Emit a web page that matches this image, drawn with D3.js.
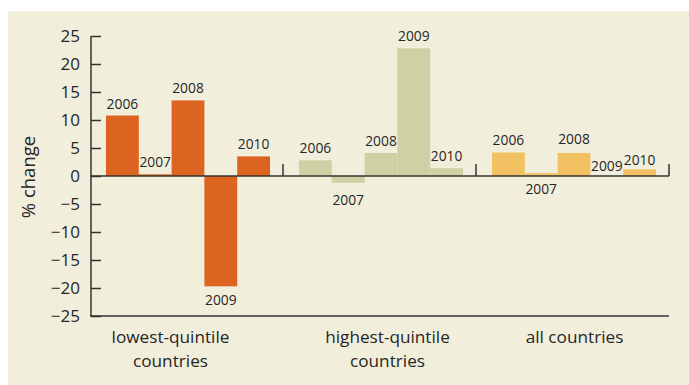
<!DOCTYPE html>
<html>
<head>
<meta charset="utf-8">
<script src="https://cdn.jsdelivr.net/npm/d3@7"></script>
<style>
  html, body { margin: 0; padding: 0; background: #ffffff; }
  svg { display: block; }
  text { font-family: "Open Sans", "Noto Sans", sans-serif; fill: #262626; }
</style>
</head>
<body>
<svg id="chart" width="689" height="385"></svg>
<script>
// ---- data ----
const groups = ["lowest-quintile countries", "highest-quintile countries", "all countries"];
const groupLabelLines = [["lowest-quintile", "countries"], ["highest-quintile", "countries"], ["all countries"]];
const years = ["2006", "2007", "2008", "2009", "2010"];
const lowestValues  = [10.8, 0.3, 13.5, -19.7, 3.5];
const highestValues = [2.8, -1.2, 4.1, 22.8, 1.4];
const allValues     = [4.2, 0.5, 4.1, 0.0, 1.2];
const yTicks = [25, 20, 15, 10, 5, 0, -5, -10, -15, -20, -25];
const yTitle = "% change";

// ---- styling / layout ----
const groupColors = ["#DC6420", "#D0D0A5", "#F1C162"];
const seriesValues = [lowestValues, highestValues, allValues];

const svg = d3.select("#chart");
svg.append("rect").attr("x", 8).attr("y", 11).attr("width", 681).attr("height", 374).attr("fill", "#F2EEDC");

const y = d3.scaleLinear().domain([-25, 25]).range([316, 36]);
const x0 = d3.scaleBand().domain(groups).range([90, 669]).padding(0);
const x1 = d3.scaleBand().domain(years).range([16, 180]).padding(0);

const rows = [];
groups.forEach((g, gi) => {
  years.forEach((yr, yi) => rows.push({ group: g, gi, year: yr, yi, value: seriesValues[gi][yi] }));
});

// bars
svg.append("g").selectAll("rect").data(rows).join("rect")
  .attr("x", d => x0(d.group) + x1(d.year))
  .attr("width", x1.bandwidth())
  .attr("y", d => y(Math.max(0, d.value)))
  .attr("height", d => Math.abs(y(d.value) - y(0)))
  .attr("fill", d => groupColors[d.gi]);

// zero line with group separators
const axisColor = "#333333";
svg.append("line").attr("x1", 90).attr("x2", 669).attr("y1", y(0)).attr("y2", y(0))
  .attr("stroke", axisColor).attr("stroke-width", 1.5);
svg.append("g").selectAll("line").data(groups).join("line")
  .attr("x1", d => x0(d) + x0.bandwidth()).attr("x2", d => x0(d) + x0.bandwidth())
  .attr("y1", y(0)).attr("y2", y(0) - 12)
  .attr("stroke", axisColor).attr("stroke-width", 1.5);

// bottom line
svg.append("line").attr("x1", 90).attr("x2", 669).attr("y1", y(-25)).attr("y2", y(-25))
  .attr("stroke", axisColor).attr("stroke-width", 1.5);

// y axis
const yAxis = d3.axisRight(y).tickValues(yTicks).tickSize(10).tickFormat("");
const ya = svg.append("g").attr("transform", "translate(91,0)").call(yAxis);
ya.select(".domain").attr("stroke", axisColor).attr("stroke-width", 1.5).attr("d", `M0,${y(25)}V${y(-25)}`);
ya.selectAll(".tick line").attr("stroke", axisColor).attr("stroke-width", 1.5);
svg.append("g").selectAll("text").data(yTicks).join("text")
  .attr("x", 80).attr("y", d => y(d)).attr("dy", "0.36em")
  .attr("text-anchor", "end").attr("font-size", 17)
  .text(d => d < 0 ? "\u2212" + Math.abs(d) : d);

// y title
svg.append("text").attr("transform", `translate(35,${y(0) + 1}) rotate(-90)`)
  .attr("text-anchor", "middle").attr("font-size", 18.5).text(yTitle);

// value (year) labels
const labelTweak = {
  "1-1": d => y(d.value) + 22.3,
  "2-1": d => y(0) + 18.3,
  "2-3": d => y(0) - 5,
  "2-4": d => y(d.value) - 4.7,
  "2-2": d => y(d.value) - 9
};
svg.append("g").selectAll("text").data(rows).join("text")
  .attr("x", d => x0(d.group) + x1(d.year) + x1.bandwidth() / 2)
  .attr("y", d => {
    const t = labelTweak[d.gi + "-" + d.yi];
    if (t) return t(d);
    return d.value >= 0 ? y(d.value) - 7 : y(d.value) + 18.3;
  })
  .attr("text-anchor", "middle").attr("font-size", 13.8)
  .text(d => d.year);

// group labels
const groupLabelShift = [-16, 8, 2];
const gl = svg.append("g").selectAll("text").data(groups).join("text")
  .attr("text-anchor", "middle").attr("font-size", 17.2)
  .attr("transform", (d, i) => `translate(${x0(d) + x0.bandwidth() / 2 + groupLabelShift[i]},343)`);
gl.selectAll("tspan").data((d, i) => groupLabelLines[i]).join("tspan")
  .attr("x", 0).attr("y", (d, i) => i * 23.5).text(d => d);
</script>
</body>
</html>
